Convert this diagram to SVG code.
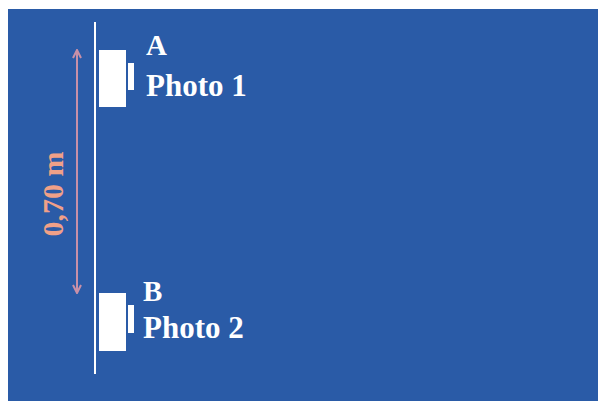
<svg xmlns="http://www.w3.org/2000/svg" width="602" height="401" viewBox="0 0 602 401">
<defs>
<style>
.lbl{font-family:"Liberation Serif","Times New Roman",serif;font-weight:bold;fill:#ffffff;}
.cam{fill:#ffffff;}
.dim{stroke:#c890a8;stroke-width:2;fill:none;}
</style>
<marker id="ah" viewBox="0 0 10 10" refX="9" refY="5" markerWidth="10" markerHeight="10" markerUnits="userSpaceOnUse" orient="auto-start-reverse">
<path d="M1,1 L9,5 L1,9" fill="none" stroke="#c890a8" stroke-width="2"/>
</marker>
</defs>
<rect x="0" y="0" width="602" height="401" fill="#ffffff"/>
<rect x="8" y="9" width="590" height="392" fill="#2a5ba7"/>
<g id="wall">
<rect x="94" y="22" width="2" height="352" fill="#ffffff"/>
</g>
<g id="cameraA">
<rect class="cam" x="99" y="50" width="27" height="57"/>
<rect class="cam" x="128" y="63" width="6" height="27"/>
<text class="lbl" x="146" y="55" font-size="29">A</text>
<text class="lbl" x="146" y="96" font-size="31">Photo 1</text>
</g>
<g id="cameraB">
<rect class="cam" x="99" y="293" width="27" height="58"/>
<rect class="cam" x="128" y="305" width="6" height="28"/>
<text class="lbl" x="143" y="301" font-size="29">B</text>
<text class="lbl" x="143" y="338" font-size="31">Photo 2</text>
</g>
<g id="connectors">
<line class="dim" x1="77" y1="50" x2="77" y2="293" marker-start="url(#ah)" marker-end="url(#ah)"/>
<text x="63" y="194" transform="rotate(-90 63 194)" text-anchor="middle" font-family="Liberation Serif,Times New Roman,serif" font-weight="bold" font-size="30" fill="#f0a088">0,70 m</text>
</g>
</svg>
